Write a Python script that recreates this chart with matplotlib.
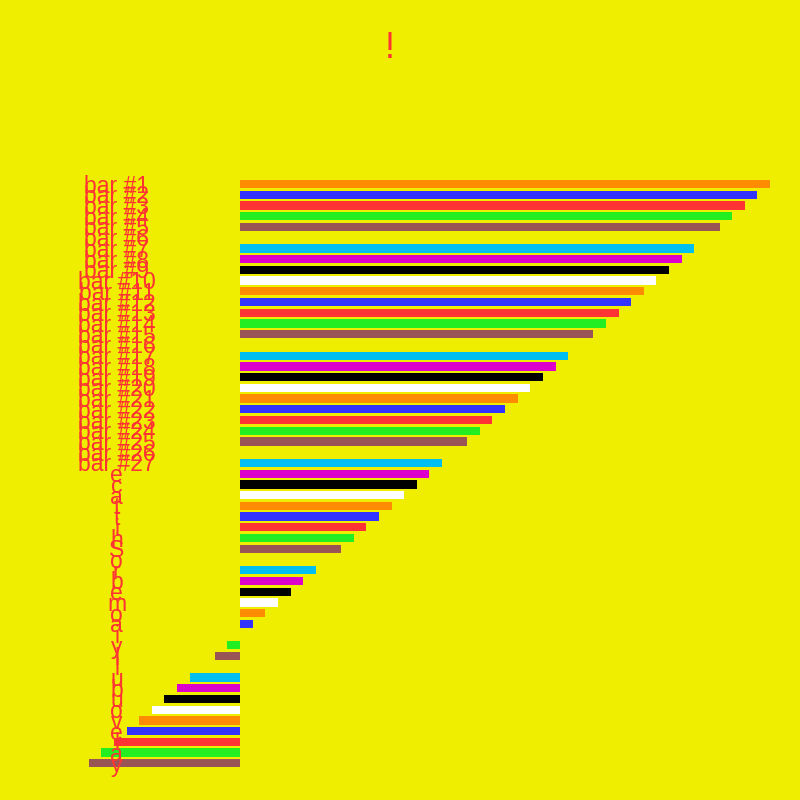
import matplotlib
matplotlib.use('Agg')
import matplotlib.pyplot as plt
import matplotlib.transforms as mtransforms

BG = '#F0EE00'
TXT = '#FF3333'

labels = ['bar #1', 'bar #2', 'bar #3', 'bar #4', 'bar #5', 'bar #6', 'bar #7',
          'bar #8', 'bar #9', 'bar #10', 'bar #11', 'bar #12', 'bar #13', 'bar #14',
          'bar #15', 'bar #16', 'bar #17', 'bar #18', 'bar #19', 'bar #20', 'bar #21',
          'bar #22', 'bar #23', 'bar #24', 'bar #25', 'bar #26', 'bar #27',
          'e', 'c', 'a', 't', 't', 'i', 'h', 'S', 'o', 'r', 'b', 'e', 'm', 'o',
          'a', 'i', 'y', 'l', 'l', 'u', 'b', 'u', 'o', 'v', 'e', 'l', 'a', 'y']

values = [42, 41, 40, 39, 38, 37, 36, 35, 34, 33, 32, 31, 30, 29, 28, 27, 26, 25,
          24, 23, 22, 21, 20, 19, 18, 17, 16, 15, 14, 13, 12, 11, 10, 9, 8, 7, 6,
          5, 4, 3, 2, 1, 0, -1, -2, -3, -4, -5, -6, -7, -8, -9, -10, -11, -12]

palette = ['#FF8C00', '#3333FF', '#FF3333', '#22EE22', '#995555',
           BG, '#00BFF0', '#DD00CC', '#000000', '#FFFFFF']

colors = [palette[i % len(palette)] for i in range(len(values))]

fig = plt.figure(figsize=(8, 8), dpi=100, facecolor=BG)
ax = fig.add_axes([0.1109, 0.0391, 0.8516, 0.7376])
ax.set_facecolor(BG)

pos = list(range(len(values)))
ax.barh(pos, values, height=0.77, color=colors, zorder=2)

ax.set_xlim(-12, 42)
ax.set_ylim(len(values) - 0.5, -0.5)
ax.axis('off')

# labels sit in a fixed column, a touch below bar centre like the original
trans = mtransforms.blended_transform_factory(fig.transFigure, ax.transData)
trans = trans + mtransforms.ScaledTranslation(0, -2 / 100, fig.dpi_scale_trans)
for p, lab in zip(pos, labels):
    ax.text(0.146, p, lab, transform=trans, ha='center', va='center',
            color=TXT, fontsize=16.5, family='Liberation Sans', zorder=5,
            clip_on=False)

fig.text(0.4875, 0.94, '!', ha='center', va='center', color=TXT,
         fontsize=26, family='Liberation Sans')

fig.savefig('out.png', dpi=100, facecolor=BG)
